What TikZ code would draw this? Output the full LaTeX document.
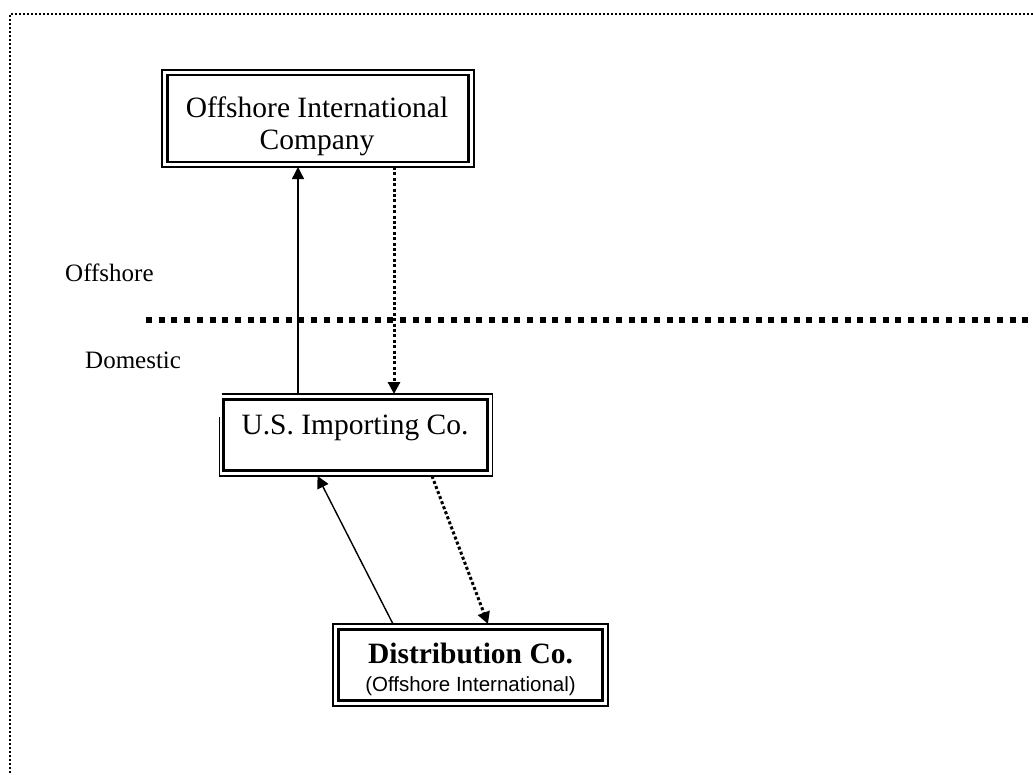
\documentclass[tikz,border=0pt]{standalone}
\usepackage{fontspec}
\setmainfont{Liberation Serif}
\newfontfamily\arialf{Liberation Sans}
\usetikzlibrary{arrows.meta}
\begin{document}
\begin{tikzpicture}[x=1pt,y=-1pt,
  outerln/.style={line width=1.5pt},
  innerln/.style={line width=2.3pt},
  solidarrow/.style={line width=1.4pt,-{Triangle[length=12pt,width=12pt]}},
  dotarrow/.style={line width=3pt,dash pattern=on 3pt off 2.4pt,-{Triangle[length=12pt,width=12pt]}},
  frameln/.style={line width=2pt,dash pattern=on 2pt off 2pt},
  divider/.style={line width=5.5pt,dash pattern=on 6pt off 6.7pt},
  lbl/.style={anchor=base west,inner sep=0pt,font=\fontsize{25}{30}\selectfont},
  ttl/.style={anchor=base,inner sep=0pt,font=\fontsize{29.5}{32}\selectfont}]
\useasboundingbox (0,0) rectangle (1033,774);
% frame
\draw[frameln] (1033,14) -- (10,14) -- (10,774);
% divider
\draw[divider] (146,320) -- (1033,320);
\node[lbl] (offl) at (65,281.5) {Offshore};
\node[lbl] (doml) at (85,368) {Domestic};
% box 1
\draw[outerln] (162,70) rectangle (474,167);
\draw[innerln] (167.5,75) rectangle (468.5,162);
\node[ttl] (t1a) at (317,117) {Offshore International};
\node[ttl] (t1b) at (317,149) {Company};
% box 2
\draw[outerln] (221.5,394) -- (492.5,394) -- (492.5,476) -- (219.5,476) -- (219.5,416.5);
\draw[innerln] (223.5,399.5) rectangle (487.5,470.5);
\node[ttl] (t2) at (355,434) {U.S. Importing Co.};
% box 3
\draw[outerln] (333,624) rectangle (608,706);
\draw[innerln] (338.5,629.5) rectangle (602.5,700.5);
\node[ttl,font=\fontsize{29.5}{32}\selectfont\bfseries] (t3) at (470.5,663) {Distribution Co.};
\node[ttl,font=\fontsize{20.5}{24}\arialf] (t3b) at (470.5,691) {(Offshore International)};
% connectors
\coordinate (a1s) at (298,394);
\coordinate (a1e) at (298,167);
\coordinate (a2s) at (394,167);
\coordinate (a2e) at (394,394);
\coordinate (a3s) at (393,624);
\coordinate (a3e) at (317.5,476);
\coordinate (a4s) at (432,476);
\coordinate (a4e) at (488,624);
\draw[solidarrow] (a1s) -- (a1e);
\draw[dotarrow] (a2s) -- (a2e);
\draw[solidarrow] (a3s) -- (a3e);
\draw[dotarrow] (a4s) -- (a4e);
\end{tikzpicture}
\end{document}
